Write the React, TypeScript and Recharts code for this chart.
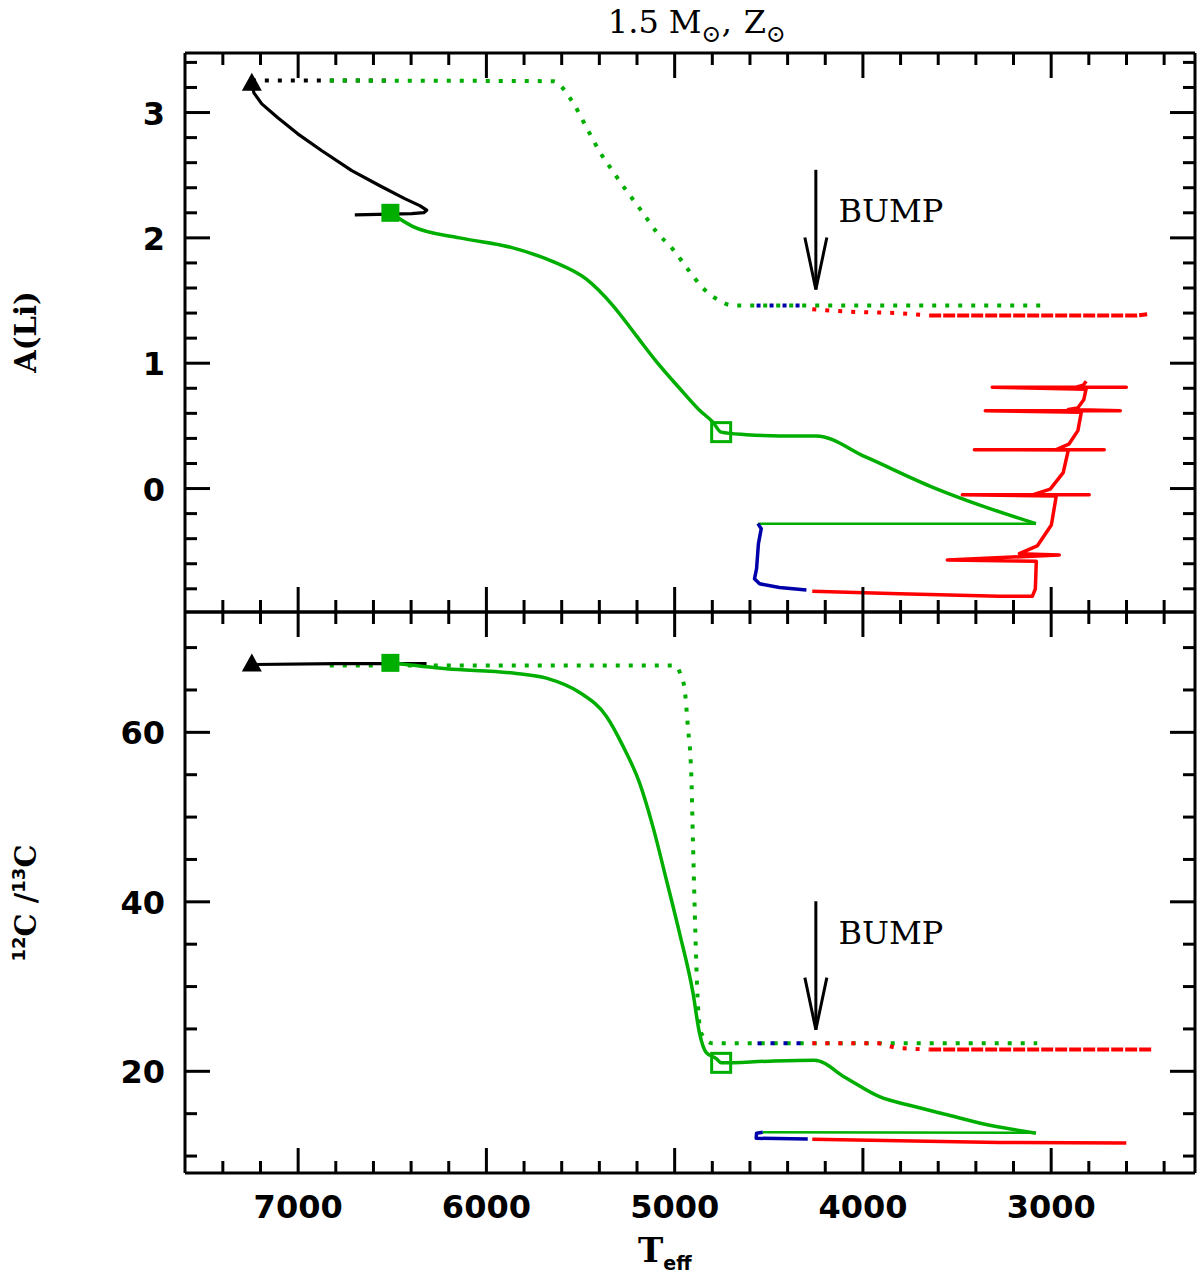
import React from "react";
import { ComposedChart, Line, Scatter, XAxis, YAxis, ReferenceDot } from "recharts";

// axes
const T_DOMAIN = [2236, 7601];
const T_TICKS = [
  2400, 2600, 2800, 3000, 3200, 3400, 3600, 3800, 4000, 4200, 4400, 4600, 4800,
  5000, 5200, 5400, 5600, 5800, 6000, 6200, 6400, 6600, 6800, 7000, 7200, 7400,
];
const LI_DOMAIN = [-0.985, 3.475];
const LI_TICKS = [
  -0.8, -0.6, -0.4, -0.2, 0, 0.2, 0.4, 0.6, 0.8, 1, 1.2, 1.4, 1.6, 1.8, 2, 2.2,
  2.4, 2.6, 2.8, 3, 3.2, 3.4,
];
const CC_DOMAIN = [8, 74.2];
const CC_TICKS = [10, 15, 20, 25, 30, 35, 40, 45, 50, 55, 60, 65, 70];

// A(Li) panel, [Teff, A(Li)]
const liBlack = [
  [7246, 3.23], [7235, 3.157], [7193, 3.069], [7108, 2.958], [7002, 2.83], [6874, 2.695],
  [6715, 2.536], [6566, 2.416], [6434, 2.313], [6354, 2.257], [6317, 2.221], [6333, 2.201],
  [6396, 2.193], [6513, 2.189], [6699, 2.183],
];
const liBlackDotted = [[7246, 3.255], [6490, 3.255]];
const liGreenDotted = [
  [6832, 3.255], [5646, 3.25], [5549, 3.1], [5461, 2.86], [5399, 2.69], [5328, 2.53],
  [5248, 2.36], [5169, 2.2], [5098, 2.05], [5010, 1.91], [4930, 1.75], [4850, 1.6],
  [4762, 1.5], [4691, 1.46], [4549, 1.46], [3054, 1.46],
];
const liBlueDotted = [[4565, 1.46], [4300, 1.46]];
const liRedDotted = [[4269, 1.43], [4073, 1.41], [3807, 1.4], [3648, 1.38]];
const liRedDense = [[3648, 1.38], [2549, 1.38], [2490, 1.39]];
const liGreen = [
  [6510, 2.2], [6390, 2.09], [6142, 2.0], [5859, 1.92], [5646, 1.81], [5469, 1.67],
  [5328, 1.46], [5204, 1.22], [5098, 1.015], [4974, 0.8], [4868, 0.625], [4797, 0.53],
  [4753, 0.45], [4620, 0.43], [4443, 0.42], [4248, 0.42], [3983, 0.25], [3629, 0.01],
  [3364, -0.14], [3081, -0.28],
];
const liGreenReturn = [[3081, -0.28], [4558, -0.28]];
const liBlue = [
  [4558, -0.28], [4540, -0.32], [4555, -0.44], [4565, -0.64], [4576, -0.72],
  [4549, -0.76], [4443, -0.79], [4300, -0.81],
];
const liRed = [
  [4269, -0.82], [3807, -0.84], [3275, -0.86], [3100, -0.86], [3084, -0.8], [3079, -0.58],
  [3552, -0.57], [2957, -0.53], [3169, -0.52], [3074, -0.458], [2999, -0.291], [2973, -0.06],
  [3472, -0.05], [2798, -0.05], [3100, -0.05], [3005, -0.004], [2936, 0.127], [2909, 0.307],
  [3408, 0.31], [2718, 0.31], [2973, 0.31], [2906, 0.354], [2858, 0.462], [2840, 0.609],
  [3350, 0.62], [2633, 0.62], [2909, 0.63], [2859, 0.642], [2827, 0.708], [2815, 0.792],
  [3313, 0.808], [2601, 0.808], [2867, 0.808], [2830, 0.824], [2814, 0.856],
];
const liStart = [[7246, 3.23]];
const liTurnoff = [[6510, 2.2]];
const liDredge = [[4753, 0.45]];
const liBumpArrow = [[4250, 2.543], [4250, 1.588]];
const liBumpLabel = [4130, 2.13];

// 12C/13C panel, [Teff, ratio]
const ccBlack = [[7246, 68.0], [6800, 68.1], [6318, 68.1]];
const ccGreenDotted = [
  [6832, 67.9], [5000, 67.9], [4965, 66.6], [4947, 65.1], [4930, 60.7], [4912, 55.2],
  [4903, 47.4], [4894, 39.5], [4876, 27.7], [4859, 24.5], [4797, 23.3], [3074, 23.3],
];
const ccBlueDotted = [[4560, 23.3], [4302, 23.3]];
const ccRedDotted = [[4269, 23.3], [3913, 23.3], [3824, 22.76], [3648, 22.56]];
const ccRedDense = [[3648, 22.56], [2462, 22.56]];
const ccGreen = [
  [6510, 68.2], [6212, 67.5], [5859, 67.0], [5681, 66.4], [5505, 64.7], [5363, 61.9],
  [5275, 58.4], [5186, 54.0], [5116, 48.9], [5044, 42.6], [4974, 36.3], [4903, 29.3],
  [4868, 24.5], [4832, 22.2], [4779, 21.5], [4753, 21.0], [4496, 21.2], [4257, 21.3],
  [4089, 19.2], [3912, 17.0], [3737, 15.9], [3558, 14.9], [3381, 13.9], [3081, 12.7],
];
const ccGreenReturn = [[3081, 12.75], [4532, 12.8]];
const ccBlue = [[4532, 12.8], [4565, 12.7], [4567, 12.1], [4293, 12.0]];
const ccRed = [[4269, 11.97], [3807, 11.8], [3275, 11.6], [2601, 11.55]];
const ccStart = [[7246, 68.0]];
const ccTurnoff = [[6510, 68.2]];
const ccDredge = [[4753, 21.0]];
const ccBumpArrow = [[4250, 40.07], [4250, 24.92]];
const ccBumpLabel = [4130, 35.0];

const GREEN = "#00ae00";
const RED = "#ff0000";
const BLUE = "#0000aa";
const DOTS = "4 9";

const pts = (arr: number[][]) => arr.map(([t, v]) => ({ t, v }));

const GAP = 20;
const TICK_FONT = { fontFamily: "DejaVu Sans", fontWeight: 700, fontSize: 32, fill: "#000" };

type Side = "left" | "right" | "top" | "bottom";

function makeTick(side: Side, isMajor: (v: number) => boolean, withLabel: boolean) {
  return (p: any) => {
    const v = p.payload.value;
    const major = isMajor(v);
    const len = major ? 25 : 12;
    const txt = withLabel && major;
    if (side === "left") {
      const fx = p.x + GAP;
      return (
        <g>
          <line x1={fx} y1={p.y} x2={fx + len} y2={p.y} stroke="#000" strokeWidth={3} />
          {txt && <text x={fx - 20} y={p.y + 12} textAnchor="end" {...TICK_FONT}>{v}</text>}
        </g>
      );
    }
    if (side === "right") {
      const fx = p.x - GAP;
      return <line x1={fx} y1={p.y} x2={fx - len} y2={p.y} stroke="#000" strokeWidth={3} />;
    }
    if (side === "top") {
      const fy = p.y + GAP;
      return <line x1={p.x} y1={fy} x2={p.x} y2={fy + len} stroke="#000" strokeWidth={3} />;
    }
    const fy = p.y - GAP;
    return (
      <g>
        <line x1={p.x} y1={fy} x2={p.x} y2={fy - len} stroke="#000" strokeWidth={3} />
        {txt && <text x={p.x} y={fy + 45} textAnchor="middle" {...TICK_FONT}>{v}</text>}
      </g>
    );
  };
}

const isThousand = (v: number) => Math.abs(v % 1000) < 1e-6;
const isInteger = (v: number) => Math.abs(v - Math.round(v)) < 1e-6;
const isTwenty = (v: number) => Math.abs(v % 20) < 1e-6;

const frame = { stroke: "#000", strokeWidth: 3 };

const triangle = (p: any) => (
  <path d={`M${p.cx},${p.cy - 11} L${p.cx + 10},${p.cy + 7} L${p.cx - 10},${p.cy + 7} Z`} fill="#000" />
);
const filledSquare = (p: any) => <rect x={p.cx - 9} y={p.cy - 9} width={18} height={18} fill={GREEN} />;
const openSquare = (p: any) => (
  <rect x={p.cx - 9.5} y={p.cy - 9.5} width={19} height={19} fill="none" stroke={GREEN} strokeWidth={3} />
);
const arrowHead = (p: any) => (
  <path d={`M${p.cx - 11},${p.cy - 52} L${p.cx},${p.cy} L${p.cx + 11},${p.cy - 52}`} fill="none" stroke="#000" strokeWidth={3} />
);
const bumpText = (p: any) => (
  <text x={p.cx} y={p.cy} fontFamily="DejaVu Serif" fontSize={32} fill="#000">BUMP</text>
);

type Panel = {
  yDomain: number[];
  yTicks: number[];
  yMajor: (v: number) => boolean;
  margin: { top: number; right: number; bottom: number; left: number };
  xLabels: boolean;
  black: number[][];
  blackDotted: number[][] | null;
  greenDotted: number[][];
  blueDotted: number[][];
  redDotted: number[][];
  redDense: number[][];
  green: number[][];
  greenReturn: number[][];
  blue: number[][];
  red: number[][];
  start: number[][];
  turnoff: number[][];
  dredge: number[][];
  arrow: number[][];
  label: number[];
};

function PanelChart({ cfg }: { cfg: Panel }) {
  const line = (data: number[][], color: string, width: number, dash?: string, curve: any = "linear") => (
    <Line
      data={pts(data)}
      dataKey="v"
      type={curve}
      stroke={color}
      strokeWidth={width}
      strokeDasharray={dash}
      strokeLinejoin="round"
      dot={false}
      activeDot={false}
      isAnimationActive={false}
    />
  );
  const tip = cfg.arrow[cfg.arrow.length - 1];
  return (
    <ComposedChart width={1200} height={1278} margin={cfg.margin}>
      <XAxis
        dataKey="t"
        type="number"
        domain={T_DOMAIN}
        reversed
        allowDataOverflow
        ticks={T_TICKS}
        interval={0}
        height={1}
        tickSize={0}
        tickMargin={GAP}
        tickLine={false}
        axisLine={frame}
        tick={makeTick("bottom", isThousand, cfg.xLabels)}
      />
      <XAxis
        xAxisId="top"
        orientation="top"
        dataKey="t"
        type="number"
        domain={T_DOMAIN}
        reversed
        allowDataOverflow
        ticks={T_TICKS}
        interval={0}
        height={1}
        tickSize={0}
        tickMargin={GAP}
        tickLine={false}
        axisLine={frame}
        tick={makeTick("top", isThousand, false)}
      />
      <YAxis
        type="number"
        domain={cfg.yDomain}
        allowDataOverflow
        ticks={cfg.yTicks}
        interval={0}
        width={1}
        tickSize={0}
        tickMargin={GAP}
        tickLine={false}
        axisLine={frame}
        tick={makeTick("left", cfg.yMajor, true)}
      />
      <YAxis
        yAxisId="right"
        orientation="right"
        type="number"
        domain={cfg.yDomain}
        allowDataOverflow
        ticks={cfg.yTicks}
        interval={0}
        width={1}
        tickSize={0}
        tickMargin={GAP}
        tickLine={false}
        axisLine={frame}
        tick={makeTick("right", cfg.yMajor, false)}
      />
      {cfg.blackDotted && line(cfg.blackDotted, "#000", 4, DOTS)}
      {line(cfg.greenDotted, GREEN, 4, DOTS, "monotone")}
      {line(cfg.blueDotted, BLUE, 4, DOTS)}
      {line(cfg.redDotted, RED, 4, DOTS)}
      {line(cfg.redDense, RED, 4, "12 2")}
      {line(cfg.black, "#000", 3.2)}
      {line(cfg.green, GREEN, 3.5, undefined, "monotone")}
      {line(cfg.greenReturn, GREEN, 2.5)}
      {line(cfg.blue, BLUE, 3.5)}
      {line(cfg.red, RED, 3.5)}
      {line(cfg.arrow, "#000", 3)}
      <ReferenceDot x={tip[0]} y={tip[1]} r={1} shape={arrowHead} ifOverflow="visible" />
      <ReferenceDot x={cfg.label[0]} y={cfg.label[1]} r={1} shape={bumpText} ifOverflow="visible" />
      <Scatter data={pts(cfg.start)} dataKey="v" shape={triangle} isAnimationActive={false} />
      <Scatter data={pts(cfg.turnoff)} dataKey="v" shape={filledSquare} isAnimationActive={false} />
      <Scatter data={pts(cfg.dredge)} dataKey="v" shape={openSquare} isAnimationActive={false} />
    </ComposedChart>
  );
}

const TOP: Panel = {
  yDomain: LI_DOMAIN,
  yTicks: LI_TICKS,
  yMajor: isInteger,
  margin: { top: 52, right: 4, bottom: 665, left: 184 },
  xLabels: false,
  black: liBlack,
  blackDotted: liBlackDotted,
  greenDotted: liGreenDotted,
  blueDotted: liBlueDotted,
  redDotted: liRedDotted,
  redDense: liRedDense,
  green: liGreen,
  greenReturn: liGreenReturn,
  blue: liBlue,
  red: liRed,
  start: liStart,
  turnoff: liTurnoff,
  dredge: liDredge,
  arrow: liBumpArrow,
  label: liBumpLabel,
};

const BOTTOM: Panel = {
  yDomain: CC_DOMAIN,
  yTicks: CC_TICKS,
  yMajor: isTwenty,
  margin: { top: 611, right: 4, bottom: 104, left: 184 },
  xLabels: true,
  black: ccBlack,
  blackDotted: null,
  greenDotted: ccGreenDotted,
  blueDotted: ccBlueDotted,
  redDotted: ccRedDotted,
  redDense: ccRedDense,
  green: ccGreen,
  greenReturn: ccGreenReturn,
  blue: ccBlue,
  red: ccRed,
  start: ccStart,
  turnoff: ccTurnoff,
  dredge: ccDredge,
  arrow: ccBumpArrow,
  label: ccBumpLabel,
};

const layer: React.CSSProperties = { position: "absolute", left: 0, top: 0 };

export default function App() {
  return (
    <div style={{ position: "absolute", left: 0, top: 0, width: 1200, height: 1278, background: "#fff" }}>
      <div style={layer}>
        <PanelChart cfg={TOP} />
      </div>
      <div style={layer}>
        <PanelChart cfg={BOTTOM} />
      </div>
      <svg width={1200} height={1278} style={{ ...layer, pointerEvents: "none" }}>
        <text x={697} y={33} textAnchor="middle" fontFamily="DejaVu Serif" fontSize={32} fill="#000">
          1.5
          <tspan dx={10}>M</tspan>
          <tspan fontSize={24} dy={9}>⊙</tspan>
          <tspan dy={-9}>,</tspan>
          <tspan dx={12}>Z</tspan>
          <tspan fontSize={24} dy={9}>⊙</tspan>
        </text>
        <text
          x={36}
          y={332}
          transform="rotate(-90 36 332)"
          textAnchor="middle"
          fontFamily="DejaVu Serif"
          fontWeight={700}
          fontSize={29}
          fill="#000"
        >
          A(Li)
        </text>
        <text
          x={36}
          y={903}
          transform="rotate(-90 36 903)"
          textAnchor="middle"
          fontFamily="DejaVu Serif"
          fontWeight={700}
          fontSize={29}
          fill="#000"
        >
          <tspan fontFamily="DejaVu Sans" fontSize={18} dy={-11}>12</tspan>
          <tspan dy={11}>C /</tspan>
          <tspan fontFamily="DejaVu Sans" fontSize={18} dy={-11}>13</tspan>
          <tspan dy={11}>C</tspan>
        </text>
        <text x={638} y={1262} fontFamily="DejaVu Serif" fontWeight={700} fontSize={34} fill="#000">
          T<tspan fontFamily="DejaVu Sans" fontSize={19} dy={8}>eff</tspan>
        </text>
      </svg>
    </div>
  );
}
